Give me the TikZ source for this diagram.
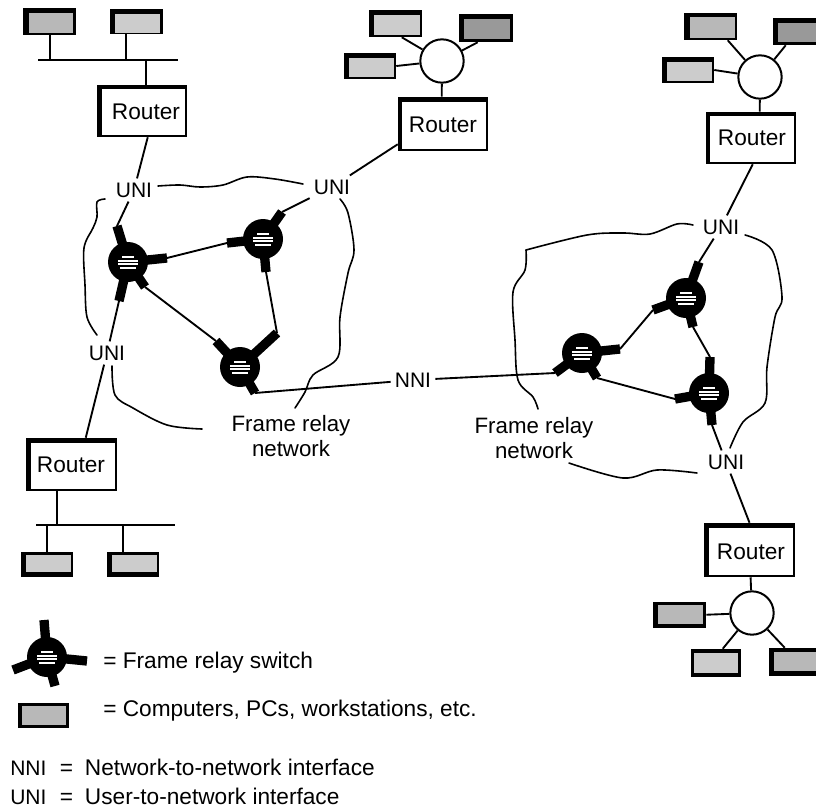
\documentclass[tikz,border=0pt]{standalone}
\usepackage{fontspec}
\setmainfont{Liberation Sans}
\usetikzlibrary{fit}
\definecolor{pclight}{gray}{0.80}
\definecolor{pcmid}{gray}{0.72}
\definecolor{pcdark}{gray}{0.60}
\tikzset{
  wire/.style={line width=1.4pt,black},
  bound/.style={line width=1.2pt,black,line cap=round},
  armline/.style={line width=7pt,black,shorten <=-3pt},
  pcout/.style={fill=black,draw=none,inner sep=0pt,rectangle},
  rtin/.style={fill=white,draw=none,inner sep=0pt,rectangle},
  rttext/.style={inner sep=0pt,font=\fontsize{17}{20}\selectfont},
  hubnode/.style={circle,draw=black,line width=1.5pt,fill=white,minimum size=32.5pt,inner sep=0pt},
  swnode/.style={circle,fill=black,draw=none,minimum size=30pt,inner sep=0pt},
  iface/.style={inner sep=3pt,font=\fontsize{15.75}{18}\selectfont},
  cloudlabel/.style={align=center,inner sep=0pt,font=\fontsize{16.7}{19}\selectfont},
  legendtext/.style={anchor=west,inner sep=0pt,font=\fontsize{17}{20}\selectfont},
}
\newcommand\pcbox[5][pcmid]{\node[pcout,fit={(#3)(#4)}] (#2) {};\fill[#1] (#5);}
\newcommand\rtbox[6]{\node[pcout,fit={(#2)(#3)}] (#1) {};\node[rtin,fit={(#4)(#5)}] (#1i) {};\node[rttext] (#1t) at (#6) {Router};}
\newcommand\swt[2]{\node[swnode] (#1) at (#2) {};
  \foreach \dy/\w in {-5/6,-1.5/10,2/10,5.5/8}{\draw[white,line width=1.5pt] ([shift={(-\w,\dy)}]#1.center) -- ([shift={(\w,\dy)}]#1.center);}}
\newcommand\arm[3]{\coordinate (#2) at (#3);\draw[armline] (#1) -- (#2);}
\begin{document}
\begin{tikzpicture}[x=0.75pt,y=-0.75pt]
\useasboundingbox (0,0) rectangle (816,810);
% ---- top-left LAN
\pcbox[pcmid]{pa}{23,8}{76,35}{29,13) rectangle (73,33}
\pcbox[pclight]{pb}{110,9}{163,34}{115,14) rectangle (160,33}
\rtbox{R1}{97,85}{187,137}{102,89}{185,135}{146,112}
\coordinate (busAl) at (38,60);\coordinate (busAr) at (178,60);
\draw[wire] (busAl) -- (busAr);
\draw[wire] (pa.south west) ++(27,0) |- (busAl);
\draw[wire] (pb.south west) ++(16,0) |- (busAl);
\draw[wire] (R1.north west) ++(49,0) |- (busAr);
% ---- top-middle LAN
\pcbox[pclight]{pc}{369,10}{422,37}{374,15) rectangle (420,35}
\pcbox[pcdark]{pd}{459,14}{513,42}{464,19) rectangle (510,39}
\pcbox[pclight]{pe}{344,53}{396,79}{349,58) rectangle (394,77}
\rtbox{R2}{398,97}{488,151}{402,102}{486,149}{443,125}
\node[hubnode] (H2) at (442,61) {};
\draw[wire] (pc.south west) ++(33,0) -- (H2);
\draw[wire] (pd.south west) ++(19,0) -- (H2);
\draw[wire] (pe.east) -- (H2);
\draw[wire] (R2.north west) ++(44,0) -- (H2);
% ---- top-right LAN
\pcbox[pcmid]{pf}{684,13}{737,40}{690,17) rectangle (735,38}
\pcbox[pcdark]{pg}{773,18}{816,45}{778,23) rectangle (816,42}
\pcbox[pclight]{ph}{662,57}{714,83}{667,62) rectangle (712,81}
\rtbox{R3}{706,112}{796,164}{710,116}{794,162}{752,138}
\node[hubnode] (H3) at (760,77) {};
\draw[wire] (pf.south west) ++(44,0) -- (H3);
\draw[wire] (pg.south west) ++(13,0) -- (H3);
\draw[wire] (ph.east) -- (H3);
\draw[wire] (R3.north west) ++(54,0) -- (H3);
% ---- bottom-left LAN
\rtbox{R5}{26,438}{117,491}{31,443}{115,489}{71,465}
\pcbox[pclight]{pi}{21,552}{73,577}{26,555) rectangle (71,572}
\pcbox[pclight]{pj}{107,552}{159,577}{112,555) rectangle (157,572}
\coordinate (busBl) at (36,525);\coordinate (busBr) at (175,525);
\draw[wire] (busBl) -- (busBr);
\draw[wire] (R5.south west) ++(31,0) |- (busBl);
\draw[wire] (pi.north west) ++(26,0) |- (busBl);
\draw[wire] (pj.north west) ++(16,0) |- (busBl);
% ---- bottom-right LAN
\rtbox{R4}{704,523}{795,577}{709,528}{793,575}{751,552}
\node[hubnode] (H4) at (752,613) {};
\pcbox[pcmid]{pk}{653,602}{706,628}{658,605) rectangle (703,624}
\pcbox[pclight]{pl}{691,649}{741,677}{694,653) rectangle (738,673}
\pcbox[pcmid]{pm}{769,648}{816,676}{774,652) rectangle (816,671}
\draw[wire] (R4) -- (H4);
\draw[wire] (pk.north east) ++(0,13) -- (H4);
\draw[wire] (pl.north west) ++(32,0) -- (H4);
\draw[wire] (pm.north west) ++(16,0) -- (H4);
% ---- interface labels
\node[iface] (U1) at (134,190) {UNI};
\node[iface] (U2) at (332,187) {UNI};
\node[iface] (U3) at (721,227) {UNI};
\node[iface] (U4) at (726,462) {UNI};
\node[iface] (U5) at (107,353) {UNI};
\node[iface] (N1) at (413,380) {NNI};
% ---- switches
\swt{S1}{128,262}
\arm{S1}{a1u}{117,226}\arm{S1}{a1r}{167,258}\arm{S1}{a1s}{145,287}\arm{S1}{a1d}{119,301}
\swt{S2}{263,239}
\arm{S2}{a2u}{282,212}\arm{S2}{a2l}{227,243}\arm{S2}{a2d}{266,272}
\swt{S3}{240,367}
\arm{S3}{a3l}{216,341}\arm{S3}{a3r}{277,333}\arm{S3}{a3s}{255,393}
\swt{S4}{582,353}
\arm{S4}{a4r}{620,349}\arm{S4}{a4s}{597,378}\arm{S4}{a4l}{555,373}
\swt{S5}{686,298}
\arm{S5}{a5u}{699,262}\arm{S5}{a5l}{653,310}\arm{S5}{a5s}{693,327}
\swt{S6}{709,393}
\arm{S6}{a6u}{710,357}\arm{S6}{a6l}{675,399}\arm{S6}{a6d}{712,425}
% ---- links
\draw[wire] (R1.south west) ++(51,0) -- (U1);
\draw[wire] (U1) -- (a1u);
\draw[wire] (R2.south west) ++(0,-7) -- (U2);
\draw[wire] (U2) -- (a2u);
\draw[wire] (R3.south west) ++(47,0) -- (U3);
\draw[wire] (U3) -- (a5u);
\draw[wire] (R5.north west) ++(60,0) -- (U5);
\draw[wire] (U5) -- (a1d);
\draw[wire] (a6d) -- (U4);
\draw[wire] (U4) -- (R4.north);
\draw[wire] (a1r) -- (a2l);
\draw[wire] (a1s) -- (a3l);
\draw[wire] (a2d) -- (a3r);
\draw[wire] (a3s) -- (N1);
\draw[wire] (N1) -- (a4l);
\draw[wire] (a4r) -- (a5l);
\draw[wire] (a5s) -- (a6u);
\draw[wire] (a4s) -- (a6l);
% ---- network boundaries
\draw[bound] plot[smooth,tension=.55] coordinates {(158,186)(180,185)(200,187)(223,185)(247,177)(275,179)(303,184)};
\draw[bound] plot[smooth,tension=.55] coordinates {(340,199)(348,213)(354,250)(348,273)(340,317)(338,357)(313,375)(305,392)(295,408)};
\draw[bound] plot[smooth,tension=.55] coordinates {(105,199)(97,202)(97,217)(93,228)(84,248)(85,285)(87,317)(97,335)};
\draw[bound] plot[smooth,tension=.55] coordinates {(112,366)(115,395)(133,408)(167,425)(202,429)};
\draw[bound] plot[smooth,tension=.55] coordinates {(693,225)(677,224)(650,234)(623,233)(587,235)(526,250)};
\draw[bound] plot[smooth,tension=.55] coordinates {(526,250)(525,270)(513,292)(515,340)(518,380)(533,397)(538,409)};
\draw[bound] plot[smooth,tension=.55] coordinates {(745,235)(772,250)(782,297)(775,317)(767,367)(765,403)(743,422)(730,448)};
\draw[bound] plot[smooth,tension=.55] coordinates {(569,463)(623,478)(657,470)(697,473)};
\node[cloudlabel] (FL) at (291,436) {Frame relay\\network};
\node[cloudlabel] (FR) at (534,438) {Frame relay\\network};
% ---- legend
\swt{S0}{47,657}
\arm{S0}{a0u}{44,620}\arm{S0}{a0r}{87,661}\arm{S0}{a0l}{13,670}\arm{S0}{a0s}{55,686}
\pcbox[pcmid]{p0}{18,703}{69,728}{22,706) rectangle (66,725}
\node[legendtext] (T1) at (103,663) {= Frame relay switch};
\node[legendtext] (T2) at (103,711) {= Computers, PCs, workstations, etc.};
\node[legendtext] (T3) at (10,767) {{\fontsize{15.75}{18}\selectfont NNI}\hspace{10pt}=\hspace{9pt}Network-to-network interface};
\node[legendtext] (T4) at (10,796) {{\fontsize{15.75}{18}\selectfont UNI}\hspace{10pt}=\hspace{9pt}User-to-network interface};
\end{tikzpicture}
\end{document}
